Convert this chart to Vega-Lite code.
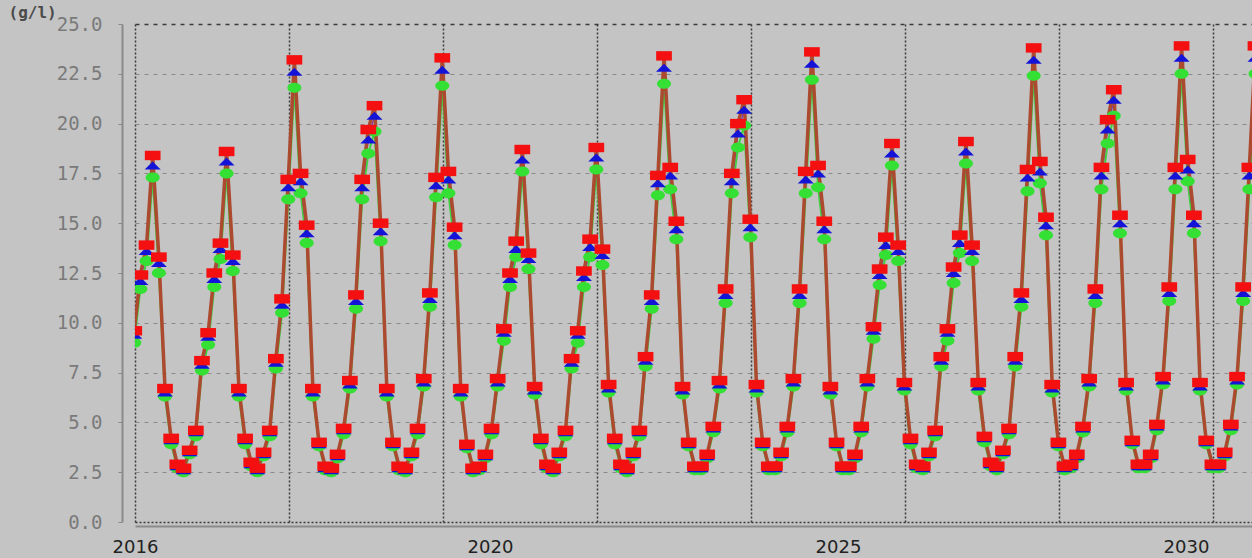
{
  "$schema": "https://vega.github.io/schema/vega-lite/v6.json",
  "width": 1117,
  "height": 498,
  "autosize": {"type": "none"},
  "padding": {"left": 135, "top": 24, "right": 0, "bottom": 36},
  "background": "#c4c4c4",
  "config": {"view": {"stroke": null, "fill": "#c4c4c4"}},
  "data": {"values": [
    {"t":2014.889,"r":9.6,"b":9.4,"g":9.0},
    {"t":2014.977,"r":12.4,"b":12.1,"g":11.7},
    {"t":2015.066,"r":13.9,"b":13.6,"g":13.1},
    {"t":2015.154,"r":18.4,"b":17.9,"g":17.3},
    {"t":2015.243,"r":13.3,"b":13.0,"g":12.5},
    {"t":2015.331,"r":6.7,"b":6.5,"g":6.3},
    {"t":2015.420,"r":4.2,"b":4.1,"g":3.9},
    {"t":2015.508,"r":2.9,"b":2.8,"g":2.7},
    {"t":2015.597,"r":2.7,"b":2.6,"g":2.5},
    {"t":2015.685,"r":3.6,"b":3.5,"g":3.4},
    {"t":2015.774,"r":4.6,"b":4.5,"g":4.3},
    {"t":2015.862,"r":8.1,"b":7.9,"g":7.6},
    {"t":2015.951,"r":9.5,"b":9.3,"g":8.9},
    {"t":2016.039,"r":12.5,"b":12.2,"g":11.8},
    {"t":2016.128,"r":14.0,"b":13.7,"g":13.2},
    {"t":2016.216,"r":18.6,"b":18.1,"g":17.5},
    {"t":2016.305,"r":13.4,"b":13.1,"g":12.6},
    {"t":2016.393,"r":6.7,"b":6.5,"g":6.3},
    {"t":2016.482,"r":4.2,"b":4.1,"g":3.9},
    {"t":2016.570,"r":3.0,"b":2.9,"g":2.8},
    {"t":2016.659,"r":2.7,"b":2.6,"g":2.5},
    {"t":2016.747,"r":3.5,"b":3.4,"g":3.3},
    {"t":2016.836,"r":4.6,"b":4.5,"g":4.3},
    {"t":2016.924,"r":8.2,"b":8.0,"g":7.7},
    {"t":2017.013,"r":11.2,"b":10.9,"g":10.5},
    {"t":2017.102,"r":17.2,"b":16.8,"g":16.2},
    {"t":2017.190,"r":23.2,"b":22.6,"g":21.8},
    {"t":2017.279,"r":17.5,"b":17.1,"g":16.5},
    {"t":2017.367,"r":14.9,"b":14.5,"g":14.0},
    {"t":2017.456,"r":6.7,"b":6.5,"g":6.3},
    {"t":2017.544,"r":4.0,"b":3.9,"g":3.8},
    {"t":2017.633,"r":2.8,"b":2.7,"g":2.6},
    {"t":2017.721,"r":2.7,"b":2.6,"g":2.5},
    {"t":2017.810,"r":3.4,"b":3.3,"g":3.2},
    {"t":2017.898,"r":4.7,"b":4.6,"g":4.4},
    {"t":2017.987,"r":7.1,"b":6.9,"g":6.7},
    {"t":2018.075,"r":11.4,"b":11.1,"g":10.7},
    {"t":2018.164,"r":17.2,"b":16.8,"g":16.2},
    {"t":2018.252,"r":19.7,"b":19.2,"g":18.5},
    {"t":2018.341,"r":20.9,"b":20.4,"g":19.6},
    {"t":2018.429,"r":15.0,"b":14.6,"g":14.1},
    {"t":2018.518,"r":6.7,"b":6.5,"g":6.3},
    {"t":2018.606,"r":4.0,"b":3.9,"g":3.8},
    {"t":2018.695,"r":2.8,"b":2.7,"g":2.6},
    {"t":2018.783,"r":2.7,"b":2.6,"g":2.5},
    {"t":2018.872,"r":3.5,"b":3.4,"g":3.3},
    {"t":2018.960,"r":4.7,"b":4.6,"g":4.4},
    {"t":2019.049,"r":7.2,"b":7.0,"g":6.8},
    {"t":2019.137,"r":11.5,"b":11.2,"g":10.8},
    {"t":2019.226,"r":17.3,"b":16.9,"g":16.3},
    {"t":2019.315,"r":23.3,"b":22.7,"g":21.9},
    {"t":2019.403,"r":17.6,"b":17.2,"g":16.5},
    {"t":2019.492,"r":14.8,"b":14.4,"g":13.9},
    {"t":2019.580,"r":6.7,"b":6.5,"g":6.3},
    {"t":2019.669,"r":3.9,"b":3.8,"g":3.7},
    {"t":2019.757,"r":2.7,"b":2.6,"g":2.5},
    {"t":2019.846,"r":2.8,"b":2.7,"g":2.6},
    {"t":2019.934,"r":3.4,"b":3.3,"g":3.2},
    {"t":2020.023,"r":4.7,"b":4.6,"g":4.4},
    {"t":2020.111,"r":7.2,"b":7.0,"g":6.8},
    {"t":2020.200,"r":9.7,"b":9.5,"g":9.1},
    {"t":2020.288,"r":12.5,"b":12.2,"g":11.8},
    {"t":2020.377,"r":14.1,"b":13.7,"g":13.3},
    {"t":2020.465,"r":18.7,"b":18.2,"g":17.6},
    {"t":2020.554,"r":13.5,"b":13.2,"g":12.7},
    {"t":2020.642,"r":6.8,"b":6.6,"g":6.4},
    {"t":2020.731,"r":4.2,"b":4.1,"g":3.9},
    {"t":2020.819,"r":2.9,"b":2.8,"g":2.7},
    {"t":2020.908,"r":2.7,"b":2.6,"g":2.5},
    {"t":2020.996,"r":3.5,"b":3.4,"g":3.3},
    {"t":2021.085,"r":4.6,"b":4.5,"g":4.3},
    {"t":2021.173,"r":8.2,"b":8.0,"g":7.7},
    {"t":2021.262,"r":9.6,"b":9.4,"g":9.0},
    {"t":2021.350,"r":12.6,"b":12.3,"g":11.8},
    {"t":2021.439,"r":14.2,"b":13.8,"g":13.3},
    {"t":2021.528,"r":18.8,"b":18.3,"g":17.7},
    {"t":2021.616,"r":13.7,"b":13.4,"g":12.9},
    {"t":2021.705,"r":6.9,"b":6.7,"g":6.5},
    {"t":2021.793,"r":4.2,"b":4.1,"g":3.9},
    {"t":2021.882,"r":2.9,"b":2.8,"g":2.7},
    {"t":2021.970,"r":2.7,"b":2.6,"g":2.5},
    {"t":2022.059,"r":3.5,"b":3.4,"g":3.3},
    {"t":2022.147,"r":4.6,"b":4.5,"g":4.3},
    {"t":2022.236,"r":8.3,"b":8.1,"g":7.8},
    {"t":2022.324,"r":11.4,"b":11.1,"g":10.7},
    {"t":2022.413,"r":17.4,"b":17.0,"g":16.4},
    {"t":2022.501,"r":23.4,"b":22.8,"g":22.0},
    {"t":2022.590,"r":17.8,"b":17.4,"g":16.7},
    {"t":2022.678,"r":15.1,"b":14.7,"g":14.2},
    {"t":2022.767,"r":6.8,"b":6.6,"g":6.4},
    {"t":2022.855,"r":4.0,"b":3.9,"g":3.8},
    {"t":2022.944,"r":2.8,"b":2.7,"g":2.6},
    {"t":2023.032,"r":2.8,"b":2.7,"g":2.6},
    {"t":2023.121,"r":3.4,"b":3.3,"g":3.2},
    {"t":2023.209,"r":4.8,"b":4.7,"g":4.5},
    {"t":2023.298,"r":7.1,"b":6.9,"g":6.7},
    {"t":2023.386,"r":11.7,"b":11.4,"g":11.0},
    {"t":2023.475,"r":17.5,"b":17.1,"g":16.5},
    {"t":2023.563,"r":20.0,"b":19.5,"g":18.8},
    {"t":2023.652,"r":21.2,"b":20.7,"g":19.9},
    {"t":2023.741,"r":15.2,"b":14.8,"g":14.3},
    {"t":2023.829,"r":6.9,"b":6.7,"g":6.5},
    {"t":2023.918,"r":4.0,"b":3.9,"g":3.8},
    {"t":2024.006,"r":2.8,"b":2.7,"g":2.6},
    {"t":2024.095,"r":2.8,"b":2.7,"g":2.6},
    {"t":2024.183,"r":3.5,"b":3.4,"g":3.3},
    {"t":2024.272,"r":4.8,"b":4.7,"g":4.5},
    {"t":2024.360,"r":7.2,"b":7.0,"g":6.8},
    {"t":2024.449,"r":11.7,"b":11.4,"g":11.0},
    {"t":2024.537,"r":17.6,"b":17.2,"g":16.5},
    {"t":2024.626,"r":23.6,"b":23.0,"g":22.2},
    {"t":2024.714,"r":17.9,"b":17.5,"g":16.8},
    {"t":2024.803,"r":15.1,"b":14.7,"g":14.2},
    {"t":2024.891,"r":6.8,"b":6.6,"g":6.4},
    {"t":2024.980,"r":4.0,"b":3.9,"g":3.8},
    {"t":2025.068,"r":2.8,"b":2.7,"g":2.6},
    {"t":2025.157,"r":2.8,"b":2.7,"g":2.6},
    {"t":2025.245,"r":3.4,"b":3.3,"g":3.2},
    {"t":2025.334,"r":4.8,"b":4.7,"g":4.5},
    {"t":2025.422,"r":7.2,"b":7.0,"g":6.8},
    {"t":2025.511,"r":9.8,"b":9.6,"g":9.2},
    {"t":2025.599,"r":12.7,"b":12.4,"g":11.9},
    {"t":2025.688,"r":14.3,"b":13.9,"g":13.4},
    {"t":2025.776,"r":19.0,"b":18.5,"g":17.9},
    {"t":2025.865,"r":13.9,"b":13.6,"g":13.1},
    {"t":2025.954,"r":7.0,"b":6.8,"g":6.6},
    {"t":2026.042,"r":4.2,"b":4.1,"g":3.9},
    {"t":2026.131,"r":2.9,"b":2.8,"g":2.7},
    {"t":2026.219,"r":2.8,"b":2.7,"g":2.6},
    {"t":2026.308,"r":3.5,"b":3.4,"g":3.3},
    {"t":2026.396,"r":4.6,"b":4.5,"g":4.3},
    {"t":2026.485,"r":8.3,"b":8.1,"g":7.8},
    {"t":2026.573,"r":9.7,"b":9.5,"g":9.1},
    {"t":2026.662,"r":12.8,"b":12.5,"g":12.0},
    {"t":2026.750,"r":14.4,"b":14.0,"g":13.5},
    {"t":2026.839,"r":19.1,"b":18.6,"g":18.0},
    {"t":2026.927,"r":13.9,"b":13.6,"g":13.1},
    {"t":2027.016,"r":7.0,"b":6.8,"g":6.6},
    {"t":2027.104,"r":4.3,"b":4.2,"g":4.0},
    {"t":2027.193,"r":3.0,"b":2.9,"g":2.8},
    {"t":2027.281,"r":2.8,"b":2.7,"g":2.6},
    {"t":2027.370,"r":3.6,"b":3.5,"g":3.4},
    {"t":2027.458,"r":4.7,"b":4.6,"g":4.4},
    {"t":2027.547,"r":8.3,"b":8.1,"g":7.8},
    {"t":2027.635,"r":11.5,"b":11.2,"g":10.8},
    {"t":2027.724,"r":17.7,"b":17.3,"g":16.6},
    {"t":2027.812,"r":23.8,"b":23.2,"g":22.4},
    {"t":2027.901,"r":18.1,"b":17.6,"g":17.0},
    {"t":2027.989,"r":15.3,"b":14.9,"g":14.4},
    {"t":2028.078,"r":6.9,"b":6.7,"g":6.5},
    {"t":2028.167,"r":4.0,"b":3.9,"g":3.8},
    {"t":2028.255,"r":2.8,"b":2.7,"g":2.6},
    {"t":2028.344,"r":2.9,"b":2.8,"g":2.7},
    {"t":2028.432,"r":3.4,"b":3.3,"g":3.2},
    {"t":2028.521,"r":4.8,"b":4.7,"g":4.5},
    {"t":2028.609,"r":7.2,"b":7.0,"g":6.8},
    {"t":2028.698,"r":11.7,"b":11.4,"g":11.0},
    {"t":2028.786,"r":17.8,"b":17.4,"g":16.7},
    {"t":2028.875,"r":20.2,"b":19.7,"g":19.0},
    {"t":2028.963,"r":21.7,"b":21.2,"g":20.4},
    {"t":2029.052,"r":15.4,"b":15.0,"g":14.5},
    {"t":2029.140,"r":7.0,"b":6.8,"g":6.6},
    {"t":2029.229,"r":4.1,"b":4.0,"g":3.9},
    {"t":2029.317,"r":2.9,"b":2.8,"g":2.7},
    {"t":2029.406,"r":2.9,"b":2.8,"g":2.7},
    {"t":2029.494,"r":3.4,"b":3.3,"g":3.2},
    {"t":2029.583,"r":4.9,"b":4.8,"g":4.6},
    {"t":2029.671,"r":7.3,"b":7.1,"g":6.9},
    {"t":2029.760,"r":11.8,"b":11.5,"g":11.1},
    {"t":2029.848,"r":17.8,"b":17.4,"g":16.7},
    {"t":2029.937,"r":23.9,"b":23.3,"g":22.5},
    {"t":2030.025,"r":18.2,"b":17.7,"g":17.1},
    {"t":2030.114,"r":15.4,"b":15.0,"g":14.5},
    {"t":2030.202,"r":7.0,"b":6.8,"g":6.6},
    {"t":2030.291,"r":4.1,"b":4.0,"g":3.9},
    {"t":2030.380,"r":2.9,"b":2.8,"g":2.7},
    {"t":2030.468,"r":2.9,"b":2.8,"g":2.7},
    {"t":2030.557,"r":3.5,"b":3.4,"g":3.3},
    {"t":2030.645,"r":4.9,"b":4.8,"g":4.6},
    {"t":2030.734,"r":7.3,"b":7.1,"g":6.9},
    {"t":2030.822,"r":11.8,"b":11.5,"g":11.1},
    {"t":2030.911,"r":17.8,"b":17.4,"g":16.7},
    {"t":2030.999,"r":23.9,"b":23.3,"g":22.5}
  ]},
  "transform": [{"fold": ["g", "b", "r"], "as": ["s", "v"]}],
  "encoding": {
    "x": {
      "field": "t", "type": "quantitative",
      "scale": {"domain": [2014.9, 2030.949], "nice": false, "zero": false},
      "axis": {
        "title": null,
        "values": [2014.9, 2017.113, 2019.325, 2020, 2021.538, 2023.75, 2025, 2025.963, 2028.176, 2030, 2030.388],
        "labelExpr": "datum.value < 2015 ? '2016' : ((datum.value == 2020 || datum.value == 2025 || datum.value == 2030) ? format(datum.value, 'd') : '')",
        "grid": true,
        "gridColor": "#3a3a3a",
        "gridDash": [2, 2],
        "gridWidth": 1.5,
        "gridOpacity": {"condition": {"test": "datum.value == 2020 || datum.value == 2025 || datum.value == 2030", "value": 0}, "value": 1},
        "ticks": false,
        "domain": true, "domainColor": "#8a8a8a", "domainWidth": 2,
        "offset": 4,
        "labelFont": "DejaVu Sans", "labelFontSize": 18, "labelColor": "#222222", "labelPadding": 12,
        "labelOverlap": false, "labelFlush": false, "labelBound": false
      }
    },
    "y": {
      "field": "v", "type": "quantitative",
      "scale": {"domain": [0, 25], "nice": false, "zero": true},
      "axis": {
        "values": [0, 2.5, 5, 7.5, 10, 12.5, 15, 17.5, 20, 22.5, 25],
        "format": ".1f",
        "grid": true,
        "gridColor": {"condition": {"test": "datum.value == 0 || datum.value == 25", "value": "#3a3a3a"}, "value": "#8a8a8a"},
        "gridDash": {"condition": {"test": "datum.value == 0", "value": [2, 2]}, "value": [4, 5]},
        "gridWidth": {"condition": {"test": "datum.value == 0 || datum.value == 25", "value": 1.5}, "value": 1},
        "offset": 13,
        "tickSize": 4, "tickColor": "#8a8a8a",
        "domainColor": "#8a8a8a", "domainWidth": 2,
        "labelFont": "DejaVu Sans Mono", "labelFontSize": 19, "labelColor": "#7a7a7a", "labelPadding": 16,
        "title": "(g/l)", "titleAngle": 0, "titleAlign": "left", "titleBaseline": "alphabetic",
        "titleX": -114, "titleY": -7,
        "titleFont": "DejaVu Sans Mono", "titleFontSize": 16, "titleFontWeight": "bold", "titleColor": "#4a4a4a"
      }
    }
  },
  "layer": [
    {"transform": [{"filter": "datum.s == 'g'"}], "mark": {"type": "line", "color": "#3fcf3f", "strokeWidth": 2, "clip": true}, "encoding": {}},
    {"transform": [{"filter": "datum.s == 'b'"}], "mark": {"type": "line", "color": "#7a3cb0", "strokeWidth": 1.5, "clip": true}, "encoding": {}},
    {"transform": [{"filter": "datum.s == 'r'"}], "mark": {"type": "line", "color": "#ac4a30", "strokeWidth": 3.5, "clip": true}, "encoding": {}},
    {"transform": [{"filter": "datum.s == 'g'"}], "mark": {"type": "point", "filled": true, "opacity": 1, "color": "#33e033", "shape": "M-1.4,0A1.4,1 0 1,0 1.4,0A1.4,1 0 1,0 -1.4,0Z", "size": 100, "clip": true}, "encoding": {}},
    {"transform": [{"filter": "datum.s == 'b'"}], "mark": {"type": "point", "filled": true, "opacity": 1, "color": "#1414d8", "shape": "M0,-0.8L1.6,0.8L-1.6,0.8Z", "size": 100, "clip": true}, "encoding": {}},
    {"transform": [{"filter": "datum.s == 'r'"}], "mark": {"type": "point", "filled": true, "opacity": 1, "color": "#f41010", "shape": "M-1.5,-0.9H1.5V0.9H-1.5Z", "size": 110, "clip": true}, "encoding": {}}
  ]
}
